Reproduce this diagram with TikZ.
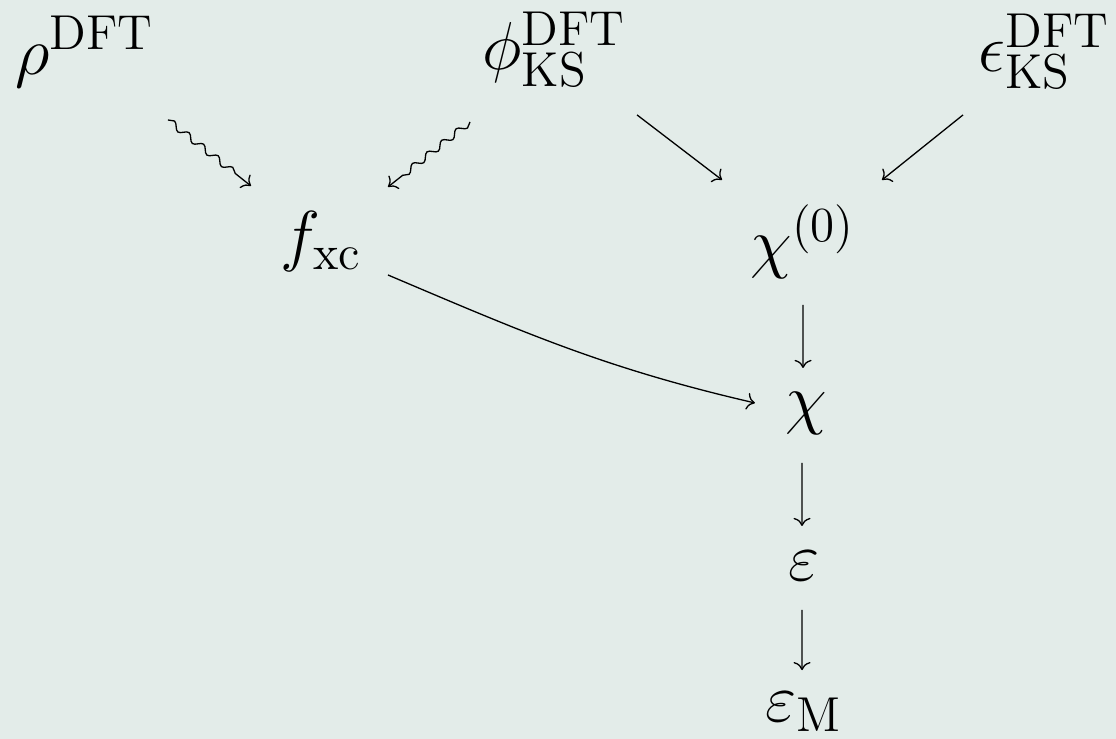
\RequirePackage{fix-cm}
\documentclass[tikz,border=0pt]{standalone}
\usetikzlibrary{arrows.meta,decorations.pathmorphing}
\DeclareMathSizes{20.74}{20.74}{15}{10}
\definecolor{slidebg}{RGB}{227,236,233}

\begin{document}
\begin{tikzpicture}[>=To,
 qty/.style={inner sep=0pt,anchor=base west,font=\huge},
 wavy/.style={->,decorate,decoration={snake,amplitude=0.35mm,segment length=2mm,post length=1.6mm}}]
\fill[slidebg] (0,0) rectangle (12,7.946);
\useasboundingbox (0,0) rectangle (12,7.946);
% ground-state DFT input
\node[qty] (rho) at (0.161,7.15) {$\rho^{\mathrm{DFT}}$};
\node[qty] (phi) at (5.183,7.194) {$\phi^{\mathrm{DFT}}_{\mathrm{KS}}$};
\node[qty] (eks) at (10.516,7.172) {$\epsilon^{\mathrm{DFT}}_{\mathrm{KS}}$};
% response quantities
\node[qty] (fxc) at (3.011,5.161) {$f_{\mathrm{xc}}$};
\node[qty] (chi0) at (8.065,5.086) {$\chi^{(0)}$};
\node[qty] (chi) at (8.441,3.409) {$\chi$};
\node[qty] (eps) at (8.473,1.699) {$\varepsilon$};
\node[qty] (epsM) at (8.226,0.19) {$\varepsilon_{\mathrm{M}}$};
\draw[wavy] ([shift={(1.645,-0.494)}]rho.base west) -- ([shift={(-0.312,0.785)}]fxc.base west);
\draw[wavy] ([shift={(-0.129,-0.559)}]phi.base west) -- ([shift={(1.161,0.775)}]fxc.base west);
\draw[->] ([shift={(1.667,-0.484)}]phi.base west) -- ([shift={(-0.301,0.925)}]chi0.base west);
\draw[->] ([shift={(-0.161,-0.462)}]eks.base west) -- ([shift={(1.419,0.925)}]chi0.base west);
\draw[->] ([shift={(1.161,-0.172)}]fxc.base west) to[out=-23,in=167] ([shift={(-0.323,0.204)}]chi.base west);
\draw[->] ([shift={(0.570,-0.419)}]chi0.base west) -- ([shift={(0.194,0.580)}]chi.base west);
\draw[->] ([shift={(0.183,-0.441)}]chi.base west) -- ([shift={(0.151,0.591)}]eps.base west);
\draw[->] ([shift={(0.151,-0.312)}]eps.base west) -- ([shift={(0.398,0.550)}]epsM.base west);
\end{tikzpicture}
\end{document}
